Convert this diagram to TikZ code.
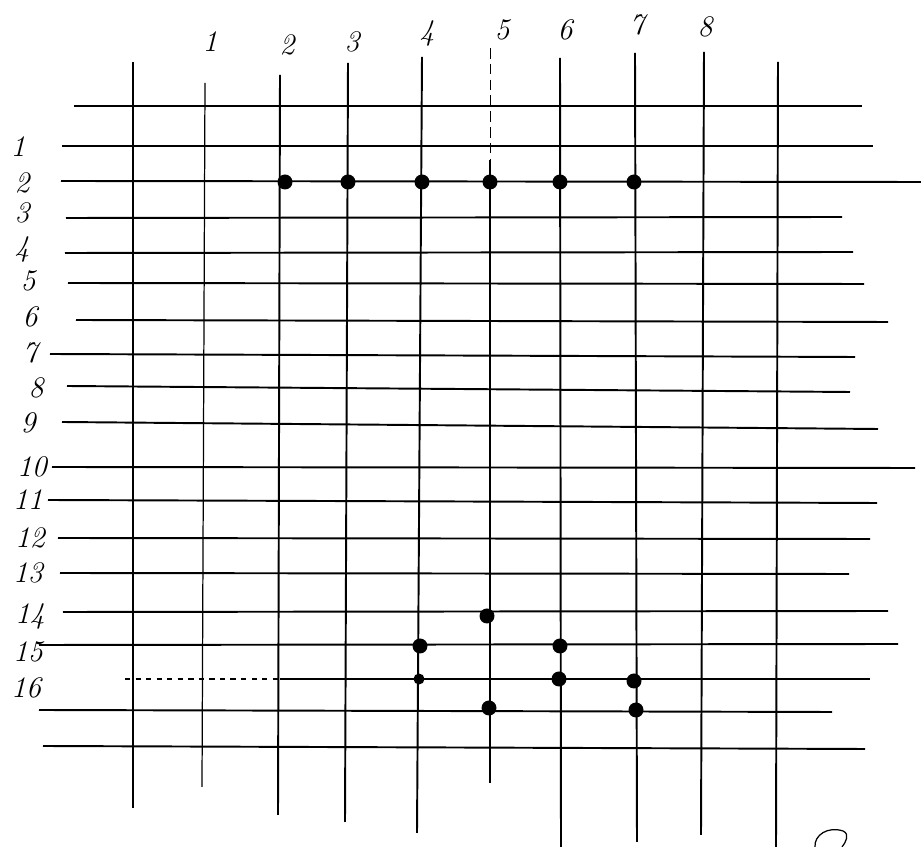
\documentclass[tikz,border=0pt]{standalone}
\usepackage{tikz}
\usetikzlibrary{positioning}

\begin{document}
\begin{tikzpicture}[x=0.02cm, y=-0.02cm,
    gridline/.style={line width=1.1pt},
    thinline/.style={line width=0.7pt},
    pin/.style={circle, fill=black, inner sep=0pt, minimum size=0.3cm},
    lbl/.style={inner sep=0pt, font=\fontsize{17}{19}\selectfont\itshape}]
  \useasboundingbox (0,0) rectangle (921,847);

  \foreach \i/\xa/\ya/\xb/\yb in {0/133/62/133/808, 2/280/75/278/815, 3/348/63/345/822,
      4/422/57/417/833, 6/560/58/561/847, 7/635/53/637/842, 8/704/52/701/835, 9/778/62/776/847}
    \draw[gridline] (\xa,\ya) coordinate (v\i t) -- (\xb,\yb) coordinate (v\i b);
  \draw[thinline] (205,83) coordinate (v1t) -- (202,787) coordinate (v1b);
  \draw[line width=0.5pt, dash pattern=on 6pt off 3pt] (490,48) coordinate (v5t) -- (490,160) coordinate (v5m);
  \draw[gridline] (v5m) -- (490,783) coordinate (v5b);

  \foreach \j/\xa/\ya/\xb/\yb in {0/74/106/862/106, 1/62/146/873/146, 2/61/181/921/182,
      3/66/218/842/217, 4/65/253/853/252, 5/68/283/864/284, 6/76/320/888/322,
      7/50/354/855/357, 8/67/386/850/392, 9/62/422/878/429, 10/52/467/915/468,
      11/48/500/877/503, 12/58/538/870/539, 13/60/573/849/574, 14/63/612/888/611,
      15/39/645/898/644, 17/39/710/832/712, 18/43/746/865/749}
    \draw[gridline] (\xa,\ya) coordinate (h\j l) -- (\xb,\yb) coordinate (h\j r);
  \draw[thinline, dashed] (125,679) coordinate (h16l) -- (280,679) coordinate (h16m);
  \draw[gridline] (h16m) -- (870,679) coordinate (h16r);

  \foreach \n/\px/\py in {1/210/42, 2/287/45, 3/352/42, 4/427/33, 5/502/30, 6/565/30, 7/637/25, 8/705/27}
    \node[lbl] (col\n) at (\px,\py) {\n};
  \foreach \n/\px/\py in {1/18/147, 2/22/183, 3/22/213, 4/22/249, 5/28/281, 6/30/317, 7/30/353, 8/36/388,
      9/28/423, 10/32/467, 11/28/500, 12/30/538, 13/28/573, 14/30/616, 15/28/652, 16/26/688}
    \node[lbl] (row\n) at (\px,\py) {\n};

  \foreach \c/\px in {2/285, 3/348, 4/422, 5/490, 6/560, 7/634}
    \node[pin] (d2c\c) at (\px,182) {};
  \node[pin] (d14c5) at (487,616) {};
  \node[pin] (d15c4) at (420,646) {};
  \node[pin] (d15c6) at (560,646) {};
  \node[pin, minimum size=0.22cm] (d16c4) at (419,679) {};
  \node[pin] (d16c6) at (559,679) {};
  \node[pin] (d16c7) at (634,681) {};
  \node[pin] (d17c5) at (489,708) {};
  \node[pin] (d17c7) at (636,710) {};

  \draw[thinline] (815,847) .. controls (814,835) and (828,826) .. (843,831)
    .. controls (850,834) and (846,842) .. (842,847);
\end{tikzpicture}
\end{document}
